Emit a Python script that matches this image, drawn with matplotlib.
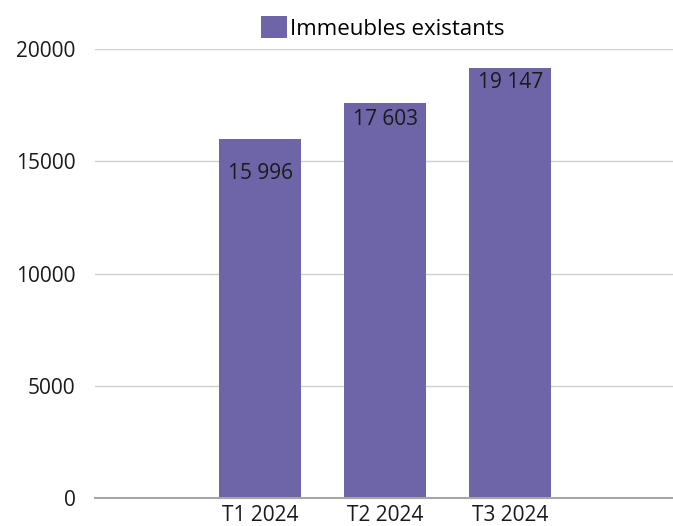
import matplotlib
matplotlib.use("Agg")
import matplotlib.pyplot as plt
from matplotlib.patches import Patch

categories = ["T1 2024", "T2 2024", "T3 2024"]
values = [15996, 17603, 19147]
value_labels = ["15 996", "17 603", "19 147"]
series_name = "Immeubles existants"
yticks = [0, 5000, 10000, 15000, 20000]

bar_color = "#6e64a8"
font = ["Open Sans", "DejaVu Sans"]

fig = plt.figure(figsize=(6.73, 5.26), dpi=100)
ax = fig.add_axes([95/673, 28/526, 1 - 95/673, (498-49)/526])

x = list(range(len(categories)))
bars = ax.bar(x, values, width=0.656, color=bar_color, zorder=3)

offsets = [-35, -17, -14]
for xi, v, lab, off in zip(x, values, value_labels, offsets):
    ax.annotate(lab, (xi, v), xytext=(0, off * 0.72), textcoords="offset points",
                ha="center", va="center", fontsize=15, family=font, color="#1a1a1a", zorder=4)

ax.set_xlim(-1.32, 3.30)
ax.set_ylim(0, 20000)
ax.set_yticks(yticks)
ax.set_yticklabels([str(t) for t in yticks], family=font, fontsize=15, color="#1a1a1a")
ax.set_xticks(x)
ax.set_xticklabels(categories, family=font, fontsize=15, color="#1a1a1a")
ax.tick_params(axis="both", length=0)
ax.tick_params(axis="y", pad=14)
ax.tick_params(axis="x", pad=5)

ax.grid(axis="y", color="#d0d0d0", linewidth=1.0, zorder=0)
for s in ["top", "right", "left"]:
    ax.spines[s].set_visible(False)
ax.spines["bottom"].set_color("#a6a6a6")
ax.spines["bottom"].set_linewidth(1.5)
ax.spines["bottom"].set_zorder(5)

handle = Patch(facecolor=bar_color, edgecolor="none")
fig.legend([handle], [series_name], loc="center", bbox_to_anchor=(383/673, 1 - 28/526),
           frameon=False, prop={"family": font, "size": 16},
           handlelength=1.15, handleheight=1.15, handletextpad=0.15)

fig.savefig("out.png", dpi=100)
